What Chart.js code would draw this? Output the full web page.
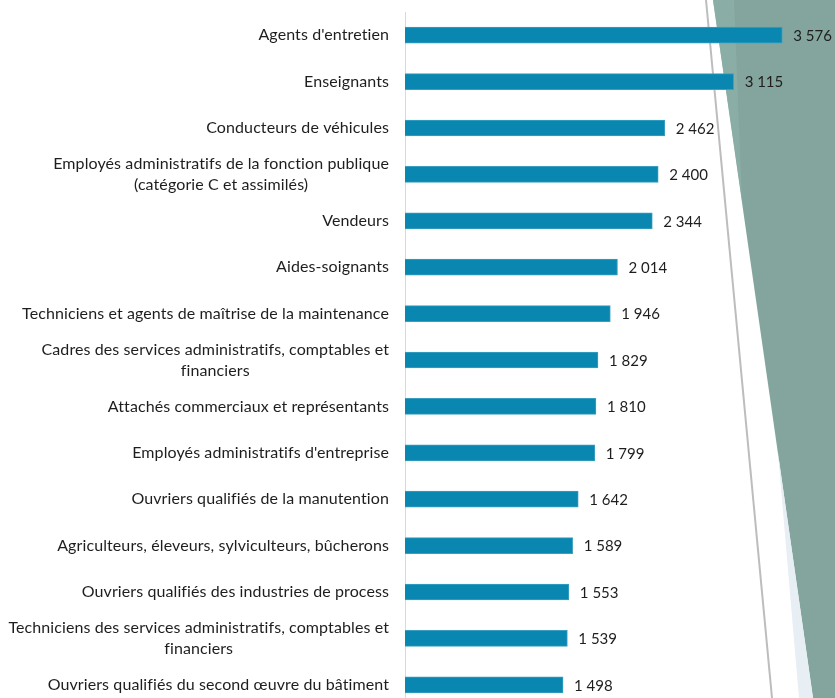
<!DOCTYPE html>
<html>
<head>
<meta charset="utf-8">
<script src="https://cdn.jsdelivr.net/npm/chart.js@4"></script>
<style>
  html, body { margin: 0; padding: 0; background: #fff; overflow: hidden; }
  #wrap { position: relative; width: 835px; height: 698px; overflow: hidden; }
  #deco { position: absolute; left: 0; top: 0; }
  #chart { position: absolute; left: 0; top: 0; }
</style>
</head>
<body>
<div id="wrap">
  <!-- décor de la diapositive, derrière le graphique -->
  <svg id="deco" width="835" height="698">
    <polygon points="713,0 835,0 835,698 813,698" fill="#84a59d"/>
    <polygon points="713,0 734,0 742,200" fill="#8db0a8" opacity="0.7"/>
    <polygon points="778,453 813,698 799,698" fill="#e7eef4"/>
    <line x1="706" y1="0" x2="772" y2="698" stroke="#bdbdbd" stroke-width="2"/>
  </svg>
  <canvas id="chart" width="835" height="712"></canvas>
</div>
<script>
// catégories (les libellés longs sont coupés sur deux lignes)
const categories = [
  "Agents d'entretien",
  "Enseignants",
  "Conducteurs de véhicules",
  ["Employés administratifs de la fonction publique", "(catégorie C et assimilés)"],
  "Vendeurs",
  "Aides-soignants",
  "Techniciens et agents de maîtrise de la maintenance",
  ["Cadres des services administratifs, comptables et", "financiers"],
  "Attachés commerciaux et représentants",
  "Employés administratifs d'entreprise",
  "Ouvriers qualifiés de la manutention",
  "Agriculteurs, éleveurs, sylviculteurs, bûcherons",
  "Ouvriers qualifiés des industries de process",
  ["Techniciens des services administratifs, comptables et", "financiers"],
  "Ouvriers qualifiés du second œuvre du bâtiment"
];
const values = [3576, 3115, 2462, 2400, 2344, 2014, 1946, 1829, 1810, 1799, 1642, 1589, 1553, 1539, 1498];
const xMax = 4000;

const FONT = '16px Lato, "Open Sans", sans-serif';
const VFONT = '15px Lato, "Open Sans", sans-serif';
const TEXT = '#1e1e1e';

function fmt(n) {
  return String(n).replace(/\B(?=(\d{3})+(?!\d))/g, ' ');
}

// libellés des catégories : alignés à droite, lignes centrées entre elles (comme Excel)
const categoryLabels = {
  id: 'categoryLabels',
  afterDraw(chart) {
    const ctx = chart.ctx;
    const y = chart.scales.y;
    const right = chart.chartArea.left - 16;
    ctx.save();
    ctx.font = FONT;
    ctx.letterSpacing = '0.1px'; // évite les ligatures « ti »
    ctx.fillStyle = TEXT;
    ctx.textBaseline = 'middle';
    ctx.textAlign = 'center';
    chart.data.labels.forEach((lab, i) => {
      const lines = Array.isArray(lab) ? lab : [lab];
      const w = Math.max(...lines.map(l => ctx.measureText(l).width));
      const cx = right - w / 2;
      const py = y.getPixelForTick(i);
      const lh = 21;
      lines.forEach((l, k) => {
        ctx.fillText(l, cx, py + (k - (lines.length - 1) / 2) * lh);
      });
    });
    ctx.restore();
  }
};

// valeurs à droite des barres
const valueLabels = {
  id: 'valueLabels',
  afterDatasetsDraw(chart) {
    const ctx = chart.ctx;
    ctx.save();
    ctx.font = VFONT;
    ctx.fillStyle = TEXT;
    ctx.textBaseline = 'middle';
    ctx.textAlign = 'left';
    chart.getDatasetMeta(0).data.forEach((bar, i) => {
      ctx.fillText(fmt(values[i]), bar.x + 11, bar.y + 1);
    });
    ctx.restore();
  }
};

new Chart(document.getElementById('chart'), {
  type: 'bar',
  data: {
    labels: categories,
    datasets: [{
      data: values,
      backgroundColor: '#0a87b1',
      borderColor: '#3a9fc2',
      borderWidth: 1,
      barThickness: 16
    }]
  },
  options: {
    indexAxis: 'y',
    responsive: false,
    animation: false,
    devicePixelRatio: 1,
    layout: { padding: { top: 12, bottom: 4, right: 8, left: 0 } },
    scales: {
      x: {
        display: false,
        min: 0,
        max: xMax
      },
      y: {
        grid: { display: false },
        border: { display: true, color: '#d9d9d9', width: 1 },
        ticks: { display: false },
        afterFit(scale) { scale.width = 405; }
      }
    },
    plugins: {
      legend: { display: false },
      tooltip: { enabled: false }
    }
  },
  plugins: [categoryLabels, valueLabels]
});
</script>
</body>
</html>
